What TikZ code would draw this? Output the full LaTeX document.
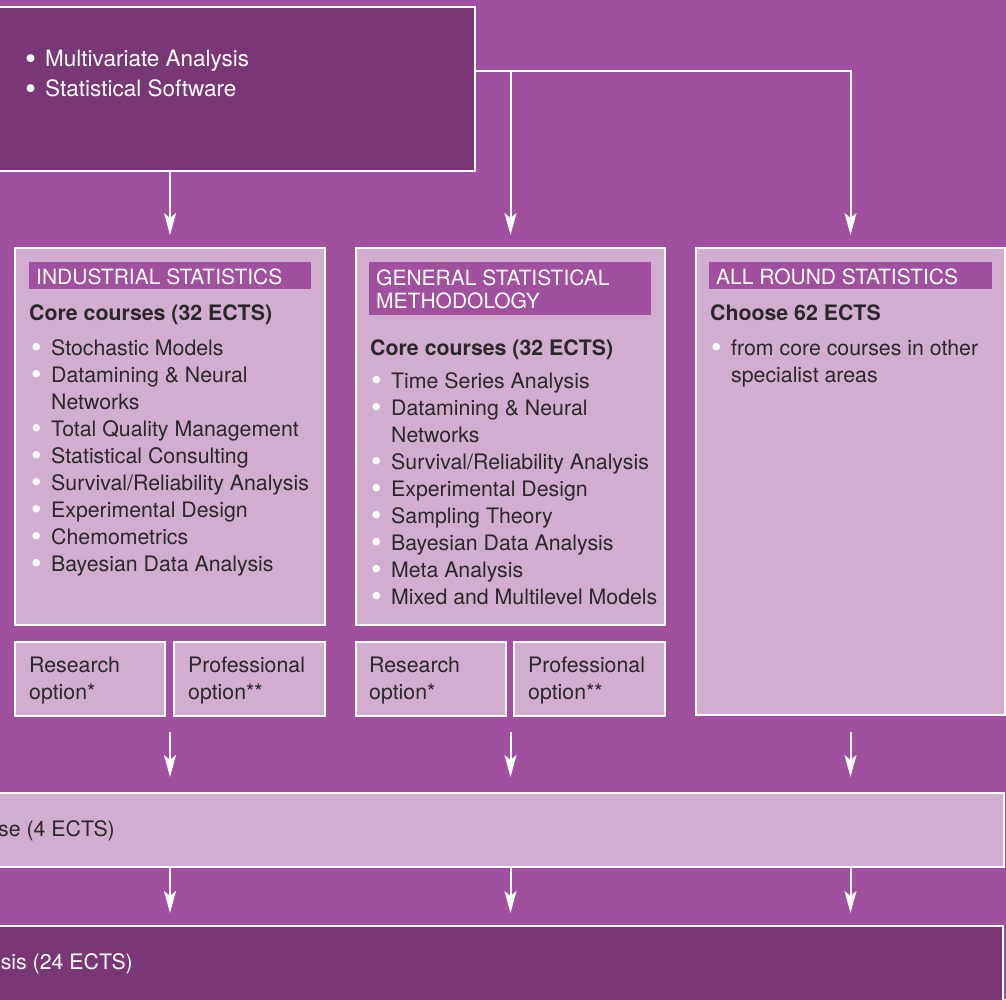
\documentclass[tikz,border=0pt]{standalone}
\usepackage{fontspec}
\setmainfont{TeX Gyre Heros}
\usetikzlibrary{arrows.meta,calc}
\definecolor{plumbg}{HTML}{A0509E}
\definecolor{plumdark}{HTML}{7A3776}
\definecolor{plumlight}{HTML}{D1ADD0}
\definecolor{ink}{HTML}{2B2829}
\newcommand{\bodyfnt}{\fontsize{21.3}{27}\selectfont}
\newcommand{\topfnt}{\fontsize{22.5}{30}\selectfont}
\newcommand{\hdrfnt}{\fontsize{21}{23}\selectfont}
\newcommand{\blt}{\makebox[20pt][l]{\color{white}\smash{\raisebox{-2.6pt}{\scalebox{1.4}{\textbullet}}}}}
\newcommand{\cont}{\hspace*{20pt}}

\begin{document}
\begin{tikzpicture}[x=1pt,y=-1pt,
  box/.style={draw=white,line width=2.2pt,inner sep=0pt,outer sep=0pt,anchor=north west},
  darkbox/.style={box,fill=plumdark},
  lightbox/.style={box,fill=plumlight},
  band/.style={fill=plumbg,inner sep=0pt,outer sep=0pt,anchor=north west,minimum width=282pt},
  txt/.style={anchor=base west,inner sep=0pt,text=ink,font=\bodyfnt},
  hdr/.style={txt,text=white,font=\hdrfnt},
  bold/.style={txt,font=\bodyfnt\bfseries},
  arr/.style={draw=white,line width=2pt,-{Stealth[length=22pt,width=12pt,inset=5pt]}}]
\useasboundingbox (0,0) rectangle (1006,999);
\clip (0,0) rectangle (1006,999);
\fill[plumbg] (0,0) rectangle (1006,999);

% common part
\node[darkbox,minimum width=485pt,minimum height=164pt] (core) at (-10,7) {};
\node[txt,text=white,font=\topfnt] (coreList) at (25,66.5)
  {\begin{tabular}[t]{@{}l@{}}\blt Multivariate Analysis\\ \blt Statistical Software\end{tabular}};

% specialist areas
\node[lightbox,minimum width=310pt,minimum height=377pt] (ind) at (15,248) {};
\node[lightbox,minimum width=309pt,minimum height=377pt] (gen) at (356,248) {};
\node[lightbox,minimum width=309pt,minimum height=467pt] (all) at (696,248) {};

\node[band,minimum height=27pt] (indHd) at (29,262) {};
\node[band,minimum height=53pt] (genHd) at (369,262) {};
\node[band,minimum height=27pt,minimum width=283pt] (allHd) at (709,262) {};

\node[hdr] (indTitle) at (36,284) {INDUSTRIAL STATISTICS};
\node[hdr] (genTitle) at (376,285)
  {\begin{tabular}[t]{@{}l@{}}GENERAL STATISTICAL\\METHODOLOGY\end{tabular}};
\node[hdr] (allTitle) at (716,284) {ALL ROUND STATISTICS};

\node[bold] (indCore) at (29,320) {Core courses (32 ECTS)};
\node[bold] (genCore) at (370,355) {Core courses (32 ECTS)};
\node[bold] (allCore) at (710,320) {Choose 62 ECTS};

\node[txt] (indList) at (31,355) {\begin{tabular}[t]{@{}l@{}}
  \blt Stochastic Models\\
  \blt Datamining \& Neural\\
  \cont Networks\\
  \blt Total Quality Management\\
  \blt Statistical Consulting\\
  \blt Survival/Reliability Analysis\\
  \blt Experimental Design\\
  \blt Chemometrics\\
  \blt Bayesian Data Analysis\end{tabular}};
\node[txt] (genList) at (371,388) {\begin{tabular}[t]{@{}l@{}}
  \blt Time Series Analysis\\
  \blt Datamining \& Neural\\
  \cont Networks\\
  \blt Survival/Reliability Analysis\\
  \blt Experimental Design\\
  \blt Sampling Theory\\
  \blt Bayesian Data Analysis\\
  \blt Meta Analysis\\
  \blt Mixed and Multilevel Models\end{tabular}};
\node[txt] (allList) at (711,355) {\begin{tabular}[t]{@{}l@{}}
  \blt from core courses in other\\
  \cont specialist areas\end{tabular}};

% options
\node[lightbox,minimum width=150pt,minimum height=74pt] (resA) at (15,642) {};
\node[lightbox,minimum width=151pt,minimum height=74pt] (proA) at (174,642) {};
\node[lightbox,minimum width=150pt,minimum height=74pt] (resB) at (356,642) {};
\node[lightbox,minimum width=151pt,minimum height=74pt] (proB) at (514,642) {};
\node[txt] (resAtxt) at (29,672) {\begin{tabular}[t]{@{}l@{}}Research\\option*\end{tabular}};
\node[txt] (proAtxt) at (188,672) {\begin{tabular}[t]{@{}l@{}}Professional\\option**\end{tabular}};
\node[txt] (resBtxt) at (369,672) {\begin{tabular}[t]{@{}l@{}}Research\\option*\end{tabular}};
\node[txt] (proBtxt) at (528,672) {\begin{tabular}[t]{@{}l@{}}Professional\\option**\end{tabular}};

% common end
\node[lightbox,minimum width=1014pt,minimum height=74pt] (comp) at (-10,793) {};
\node[darkbox,minimum width=1013pt,minimum height=90pt] (thesis) at (-10,926) {};
\node[txt,anchor=base east] (compTxt) at (115,836) {se (4 ECTS)};
\node[txt,anchor=base east,text=white] (thesisTxt) at (133,969) {sis (24 ECTS)};

% connectors
\coordinate (busR) at (850.5,71);
\draw[arr] (core.north east |- busR) -- (busR) -- ($(all.north)+(0,-13)$);
\draw[arr] (gen.north |- busR) -- ($(gen.north)+(0,-13)$);
\draw[arr] (core.south -| ind.north) -- ($(ind.north)+(0,-13)$);
\foreach \col in {ind,gen,all}{
  \draw[arr] ($(\col.south |- resA.south)+(0,16)$) -- ($(\col.south |- comp.north)+(0,-16)$);
  \draw[arr] (\col.south |- comp.south) -- ($(\col.south |- thesis.north)+(0,-13)$);
}
\end{tikzpicture}
\end{document}
